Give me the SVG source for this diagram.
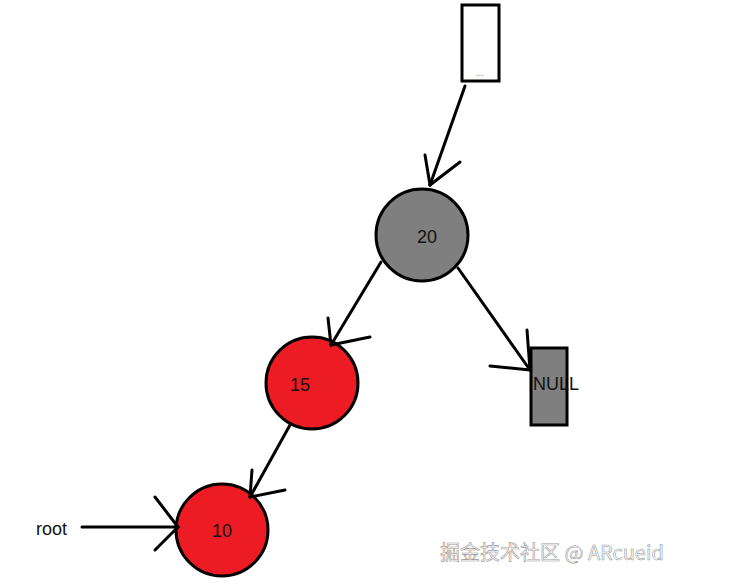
<svg xmlns="http://www.w3.org/2000/svg" width="740" height="587" viewBox="0 0 740 587">
<style>
.n{stroke:#000;stroke-width:3}
.g{fill:#7f7f7f}
.r{fill:#ed1c24}
.t{font-family:"Liberation Sans",Arial,sans-serif;font-size:18px;fill:#111}
.c line{stroke:#000;stroke-width:3;stroke-linecap:round}
</style>
<rect width="740" height="587" fill="#fff"/>
<g id="top"><rect x="462" y="5" width="37" height="76" fill="#fff" class="n"/><text x="480" y="76" text-anchor="middle" font-family="Liberation Sans,sans-serif" font-size="10" fill="#888">...</text></g>
<g id="n20"><circle cx="422" cy="235" r="46" class="n g"/><text x="427" y="243" text-anchor="middle" class="t">20</text></g>
<g id="n15"><circle cx="312" cy="383" r="46" class="n r"/><text x="300" y="391" text-anchor="middle" class="t">15</text></g>
<g id="n10"><circle cx="222" cy="530" r="46" class="n r"/><text x="222" y="537" text-anchor="middle" class="t">10</text></g>
<g id="null"><rect x="531" y="348" width="36" height="77" class="n g"/><text x="556" y="390" text-anchor="middle" class="t">NULL</text></g>
<g id="root"><text x="36" y="535" class="t">root</text></g>
<g class="c" id="connectors">
<line x1="465" y1="86" x2="430" y2="185"/><line x1="430" y1="185" x2="425" y2="155"/><line x1="430" y1="185" x2="460" y2="162"/>
<line x1="381" y1="262" x2="331" y2="345"/><line x1="331" y1="345" x2="328" y2="318"/><line x1="331" y1="345" x2="370" y2="337"/>
<line x1="458" y1="268" x2="530" y2="370"/><line x1="530" y1="370" x2="527" y2="330"/><line x1="530" y1="370" x2="490" y2="366"/>
<line x1="290" y1="425" x2="250" y2="497"/><line x1="250" y1="497" x2="252" y2="470"/><line x1="250" y1="497" x2="285" y2="490"/>
<line x1="82" y1="527" x2="178" y2="527"/><line x1="178" y1="527" x2="155" y2="497"/><line x1="178" y1="527" x2="155" y2="550"/>
</g>
<text x="440" y="560" font-family="Noto Sans CJK SC,sans-serif" font-size="20" fill="#fff" stroke="#999" stroke-width="0.6">掘金技术社区 @ ARcueid</text>
</svg>
